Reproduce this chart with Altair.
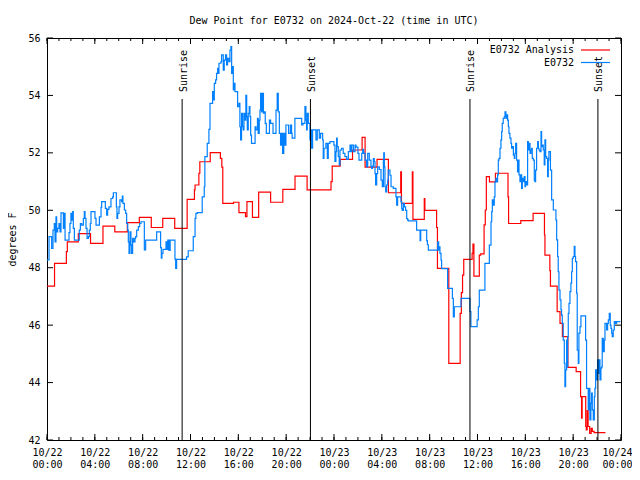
import altair as alt
import pandas as pd

# Hours since 2024-10-22 00:00 UTC and dew point (deg F)
ana_h = [0, 0.63, 1.62, 1.7, 2.62, 3.64, 4.68, 5.67, 6.72, 7.72, 8.72, 9.68, 10.68, 11.72, 12.33, 12.38,
         12.7, 12.78, 13.65, 14.5, 14.62, 14.7, 15.6, 16.05, 16.6, 16.72, 17.18, 17.7, 18.7, 19.72, 20.74,
         21.75, 23.75, 23.85, 24.52, 25.55, 26.35, 26.6, 27.6, 28.55, 29.58, 29.64, 30.55, 30.6, 31.55,
         31.6, 32.58, 32.65, 33.6, 34.55, 34.65, 34.75, 34.85, 35.55, 35.62, 35.7, 36.15, 36.27, 36.55,
         36.65, 36.74, 37.0, 37.5, 38.55, 38.6, 39.62, 40.65, 41.6, 41.64, 42.05, 42.1, 42.66, 42.9, 43.1,
         43.56, 44.25, 44.62, 44.7, 44.75, 45.0, 45.05, 45.1, 45.17, 45.25, 45.38, 45.5, 45.6, 45.75, 46.7]
ana_v = [47.36, 48.15, 48.56, 48.90, 49.19, 48.85, 49.45, 49.25, 49.57, 49.75, 49.40, 49.72, 49.37, 50.38,
         50.71, 50.88, 51.29, 51.69, 52.01, 51.81, 51.5, 50.24, 50.28, 49.92, 49.78, 50.3, 49.75, 50.63,
         50.28, 50.73, 51.19, 50.71, 51.0, 51.54, 51.77, 52.1, 52.54, 51.5, 51.77, 50.61, 51.34, 50.24,
         51.34, 49.68, 50.41, 50.0, 49.4, 47.98, 44.67, 46.41, 47.13, 47.74, 48.29, 48.5, 48.82, 47.71,
         48.44, 48.48, 49.49, 50.01, 51.17, 50.99, 51.29, 50.47, 49.54, 49.64, 49.89, 49.14, 48.44, 47.9,
         47.36, 46.47, 46.06, 45.6, 44.53, 44.38, 43.51, 42.76, 43.51, 43.51, 42.47, 42.35, 43.02, 42.47,
         42.23, 42.41, 42.3, 42.26, 42.26]

obs_h = [0, 0.17, 0.39, 0.5, 0.61, 0.67, 0.75, 0.81, 0.89, 1.0, 1.09, 1.17, 1.37, 1.45, 1.51, 1.84, 1.92,
         2.0, 2.06, 2.15, 2.2, 2.29, 2.7, 2.79, 2.9, 3.04, 3.12, 3.18, 3.26, 3.35, 3.46, 3.54, 3.62, 3.68,
         4.01, 4.1, 4.38, 4.52, 4.57, 4.88, 4.99, 5.07, 5.18, 5.35, 5.49, 5.55, 5.8, 5.85, 5.91, 6.02, 6.1,
         6.24, 6.3, 6.35, 6.47, 6.58, 6.66, 6.75, 6.8, 6.86, 6.94, 7.02, 7.08, 7.16, 7.25, 7.36, 7.41, 7.5,
         7.64, 7.75, 7.86, 8.14, 8.25, 9.17, 9.5, 9.56, 9.61, 9.7, 9.95, 10.05, 10.1, 10.2, 10.3, 10.7,
         10.76, 10.84, 11.67, 11.81, 12.23, 12.38, 12.45, 12.57, 12.98, 13.15, 13.2, 13.4, 13.54, 13.63,
         13.85, 13.9, 13.99, 14.1, 14.18, 14.27, 14.32, 14.38, 14.55, 14.6, 14.74, 14.82, 14.93, 15.02,
         15.1, 15.21, 15.3, 15.38, 15.44, 15.49, 15.58, 15.66, 15.72, 15.94, 16.05, 16.13, 16.19, 16.27,
         16.35, 16.41, 16.47, 16.55, 16.63, 16.7, 16.75, 16.83, 16.91, 16.97, 17.03, 17.1, 17.4, 17.48,
         17.6, 17.66, 17.75, 17.81, 17.86, 17.94, 18.03, 18.1, 18.17, 18.25, 18.34, 18.6, 18.7, 18.9,
         19.15, 19.25, 19.34, 19.43, 19.53, 19.61, 19.7, 19.8, 19.9, 19.98, 20.2, 20.35, 20.45, 20.5,
         20.73, 21.3, 21.4, 21.57, 21.65, 21.71, 21.76, 21.85, 21.99, 22.07, 22.13, 22.21, 22.49, 22.6,
         22.77, 22.88, 23.05, 23.1, 23.16, 23.32, 23.44, 23.52, 23.66, 23.99, 24.08, 24.16, 24.22, 24.27,
         24.36, 24.44, 24.5, 24.63, 24.77, 24.91, 25.06, 25.2, 25.34, 25.42, 25.48, 25.62, 25.76, 25.84,
         26.0, 26.09, 26.32, 26.4, 26.48, 26.6, 26.73, 26.82, 26.95, 27.09, 27.15, 27.21, 27.29, 27.37,
         27.43, 27.48, 27.57, 27.65, 27.79, 27.93, 28.04, 28.13, 28.16, 28.21, 28.26, 28.32, 28.4, 28.49,
         28.54, 28.68, 28.77, 28.96, 29.18, 29.24, 29.32, 29.6, 29.66, 29.71, 29.8, 29.88, 29.99, 30.08,
         30.16, 30.22, 30.91, 31.2, 31.25, 31.75, 31.81, 31.89, 32.67, 32.75, 32.8, 32.86, 32.95, 33.0,
         33.5, 33.9, 33.98, 34.06, 34.62, 35.37, 35.45, 35.97, 36.07, 36.15, 36.62, 36.99, 37.13, 37.19,
         37.24, 37.32, 37.4, 37.46, 37.54, 37.6, 37.68, 37.74, 37.8, 37.88, 37.96, 38.02, 38.07, 38.15,
         38.24, 38.3, 38.38, 38.46, 38.52, 38.58, 38.63, 38.71, 38.8, 38.85, 38.94, 39.0, 39.08, 39.13,
         39.19, 39.27, 39.35, 39.41, 39.47, 39.55, 39.63, 39.69, 39.75, 39.83, 39.91, 39.97, 40.02, 40.11,
         40.19, 40.25, 40.3, 40.39, 40.47, 40.52, 40.58, 40.67, 40.75, 40.8, 40.86, 40.94, 41.03, 41.09,
         41.14, 41.22, 41.31, 41.36, 41.42, 41.5, 41.58, 41.64, 41.7, 41.78, 41.86, 41.92, 41.97, 42.1,
         42.2, 42.34, 42.56, 42.62, 42.7, 42.75, 42.81, 42.9, 42.98, 43.03, 43.09, 43.17, 43.26, 43.31,
         43.37, 43.45, 43.5, 43.54, 43.59, 43.65, 43.73, 43.81, 43.87, 43.93, 44.01, 44.09, 44.15, 44.2,
         44.29, 44.34, 44.43, 44.48, 44.57, 44.65, 45.04, 45.12, 45.2, 45.26, 45.32, 45.4, 45.48, 45.54,
         45.6, 45.68, 45.77, 45.82, 45.88, 45.96, 46.04, 46.1, 46.16, 46.24, 46.32, 46.38, 46.43, 46.52,
         46.6, 46.66, 46.74, 46.8, 46.88, 46.94, 47.02, 47.1, 47.16, 47.22, 47.27, 47.35, 47.44, 47.55,
         47.63, 47.95]
obs_v = [48.27, 49.08, 48.67, 49.31, 49.54, 48.9, 49.77, 49.25, 49.37, 49.54, 49.25, 49.91, 49.37, 49.89,
         48.96, 49.22, 49.54, 49.89, 49.66, 49.95, 49.37, 48.96, 49.31, 49.54, 49.48, 49.72, 49.95, 49.72,
         49.37, 49.02, 49.08, 49.31, 49.54, 49.95, 49.72, 49.48, 49.77, 50.1, 50.3, 50.07, 49.83, 50.03,
         50.12, 50.41, 50.47, 50.61, 50.12, 49.72, 49.89, 50.12, 50.36, 50.3, 50.49, 50.24, 50.01, 49.89,
         49.54, 49.31, 48.9, 48.5, 49.25, 48.79, 48.5, 49.02, 48.9, 49.02, 49.08, 49.31, 49.43, 49.54, 49.6,
         48.62, 48.96, 49.25, 48.7, 48.33, 48.5, 48.64, 48.9, 48.64, 48.96, 48.6, 48.96, 48.3, 47.98, 48.29,
         48.38, 48.59, 49.08, 49.72, 49.89, 49.92, 50.47, 50.82, 51.87, 52.33, 52.82, 53.72, 54.13, 53.84,
         54.42, 54.54, 54.77, 54.94, 54.77, 55.12, 55.18, 55.41, 54.88, 55.23, 55.41, 55.06, 55.29, 55.18,
         55.58, 55.7, 54.77, 55.0, 54.19, 54.42, 54.13, 53.61, 53.72, 52.91, 52.45, 53.38, 52.91, 52.8,
         53.38, 53.14, 54.0, 53.26, 52.8, 53.38, 53.61, 53.26, 52.62, 52.33, 52.91, 52.8, 53.2, 52.68,
         53.14, 53.49, 54.07, 53.43, 54.07, 53.38, 53.43, 53.03, 52.68, 53.14, 53.03, 52.68, 53.49, 54.07,
         53.43, 52.68, 52.27, 52.68, 51.98, 52.68, 52.27, 52.97, 52.68, 52.97, 52.68, 52.51, 53.2, 52.97,
         53.03, 53.61, 53.14, 52.8, 53.38, 53.03, 52.45, 52.8, 52.16, 52.8, 52.45, 52.8, 52.51, 52.68,
         52.45, 51.81, 52.16, 52.33, 51.81, 52.33, 52.39, 52.27, 51.7, 52.04, 52.51, 52.22, 51.87, 51.58,
         52.1, 52.16, 51.98, 51.87, 51.77, 52.04, 52.27, 52.04, 52.27, 52.04, 52.27, 52.2, 51.98, 51.75,
         51.98, 52.12, 51.98, 51.75, 51.51, 51.98, 51.75, 51.51, 51.46, 51.54, 51.8, 51.69, 51.28, 50.88,
         51.28, 51.51, 51.42, 51.05, 50.82, 51.77, 52.0, 51.51, 50.82, 50.64, 50.88, 51.05, 51.4, 51.22,
         50.82, 50.76, 50.47, 50.18, 50.47, 50.3, 50.06, 50.0, 50.24, 50.12, 50.0, 49.71, 49.66, 49.63,
         49.31, 48.94, 49.31, 48.94, 48.8, 48.61, 48.9, 48.61, 48.73, 48.5, 48.26, 47.97, 47.28, 46.93,
         46.29, 46.64, 46.93, 46.47, 45.95, 46.18, 46.64, 47.22, 48.15, 48.79, 49.6, 49.95, 50.36, 50.18,
         50.47, 50.99, 51.11, 50.99, 51.23, 51.75, 51.81, 52.16, 52.45, 52.74, 53.03, 53.2, 53.26, 53.43,
         53.2, 53.32, 53.14, 52.91, 52.68, 52.51, 52.33, 52.16, 52.22, 51.92, 51.81, 51.98, 52.33, 51.75,
         51.34, 51.75, 51.23, 51.0, 51.23, 50.76, 51.11, 51.0, 51.17, 50.82, 51.0, 50.88, 52.39, 52.1,
         52.33, 51.98, 52.1, 52.16, 51.81, 51.75, 51.05, 51.0, 51.4, 52.16, 52.39, 52.16, 52.1, 52.04,
         52.74, 52.22, 52.27, 52.1, 51.58, 52.45, 51.87, 51.81, 51.17, 51.75, 52.04, 51.4, 50.36, 50.01,
         49.66, 48.97, 48.39, 47.86, 47.22, 46.88, 46.53, 46.35, 46.06, 45.48, 44.67, 43.86, 44.44, 45.48,
         44.55, 45.6, 46.41, 46.76, 47.17, 47.46, 47.86, 48.33, 48.39, 48.74, 48.39, 48.21, 47.11, 45.13,
         44.67, 45.72, 45.95, 46.32, 45.48, 43.8, 43.8, 43.05, 43.8, 42.7, 43.28, 43.63, 43.05, 42.7, 43.51,
         43.8, 44.44, 44.09, 44.79, 44.32, 44.79, 44.09, 44.5, 44.55, 45.54, 45.08, 45.48, 46.06, 46.06,
         45.83, 46.06, 46.18, 46.41, 46.0, 45.89, 45.72, 45.6, 45.83, 46.12, 46.06, 46.12, 46.12]

sun_h = [11.3, 22.03, 35.37, 46.07]
sun_lbl = ["Sunrise", "Sunset", "Sunrise", "Sunset"]
x_major = list(range(0, 49, 4))
x_minor = list(range(0, 49))
y_major = [42, 44, 46, 48, 50, 52, 54, 56]

W, H = 574, 402
FONT = "DejaVu Sans Mono"
RED = "#ff0000"
BLUE = "#0080ff"

ana = pd.DataFrame({"h": ana_h, "v": ana_v})
obs = pd.DataFrame({"h": obs_h, "v": obs_v})
sun = pd.DataFrame({"h": sun_h, "label": sun_lbl})
xmaj = pd.DataFrame({"h": x_major})
xmin = pd.DataFrame({"h": x_minor})
ymaj = pd.DataFrame({"v": y_major})
one = pd.DataFrame({"a": [0]})

xscale = alt.Scale(domain=[0, 48], nice=False, zero=False)
yscale = alt.Scale(domain=[42, 56], nice=False, zero=False)

label_expr = ("['10/' + (22 + floor(datum.value / 24)), "
              "(datum.value % 24 < 10 ? '0' : '') + (datum.value % 24) + ':00']")

X = alt.X("h:Q", scale=xscale,
          axis=alt.Axis(values=x_major, labelExpr=label_expr, tickSize=0, domain=False,
                        grid=False, title=None, labelPadding=7, labelFont=FONT,
                        labelFontSize=10, labelColor="black", labelLineHeight=12,
                        labelFlush=False, labelOverlap=False,
                        labelOffset=alt.condition("datum.value == 48", alt.value(-4), alt.value(0))))
Y = alt.Y("v:Q", scale=yscale,
          axis=alt.Axis(values=y_major, tickSize=0, domain=False, grid=False,
                        title="degrees F", titleFont=FONT, titleFontSize=10,
                        titleFontWeight="normal", titleColor="black", titlePadding=10,
                        labelPadding=7, labelFont=FONT, labelFontSize=10,
                        labelColor="black", labelFlush=False, labelOverlap=False))

red_line = alt.Chart(ana).mark_line(interpolate="step-after", color=RED, strokeWidth=1.2).encode(x=X, y=Y)
blue_line = alt.Chart(obs).mark_line(interpolate="step-after", color=BLUE, strokeWidth=1.2).encode(
    x=alt.X("h:Q", scale=xscale), y=alt.Y("v:Q", scale=yscale))

sun_rule = alt.Chart(sun).mark_rule(color="black", strokeWidth=1).encode(
    x=alt.X("h:Q", scale=xscale), y=alt.value(61), y2=alt.value(H))
sun_text = alt.Chart(sun).mark_text(angle=270, align="left", baseline="middle", font=FONT,
                                     fontSize=10, color="black", dy=1.5).encode(
    x=alt.X("h:Q", scale=xscale), y=alt.value(54), text="label:N")

tick_x_bot_maj = alt.Chart(xmaj).mark_rule(color="black").encode(
    x=alt.X("h:Q", scale=xscale), y=alt.value(H - 6), y2=alt.value(H))
tick_x_top_maj = alt.Chart(xmaj).mark_rule(color="black").encode(
    x=alt.X("h:Q", scale=xscale), y=alt.value(0), y2=alt.value(6))
tick_x_bot_min = alt.Chart(xmin).mark_rule(color="black").encode(
    x=alt.X("h:Q", scale=xscale), y=alt.value(H - 3), y2=alt.value(H))
tick_x_top_min = alt.Chart(xmin).mark_rule(color="black").encode(
    x=alt.X("h:Q", scale=xscale), y=alt.value(0), y2=alt.value(3))
tick_y_left = alt.Chart(ymaj).mark_rule(color="black").encode(
    y=alt.Y("v:Q", scale=yscale), x=alt.value(0), x2=alt.value(6))
tick_y_right = alt.Chart(ymaj).mark_rule(color="black").encode(
    y=alt.Y("v:Q", scale=yscale), x=alt.value(W - 6), x2=alt.value(W))

leg_t1 = alt.Chart(one).mark_text(align="right", baseline="middle", font=FONT, fontSize=10,
                                  color="black").encode(x=alt.value(527), y=alt.value(12),
                                                        text=alt.value("E0732 Analysis"))
leg_t2 = alt.Chart(one).mark_text(align="right", baseline="middle", font=FONT, fontSize=10,
                                  color="black").encode(x=alt.value(527), y=alt.value(24.5),
                                                        text=alt.value("E0732"))
leg_l1 = alt.Chart(one).mark_rule(color=RED, strokeWidth=1.2).encode(
    x=alt.value(534), x2=alt.value(563), y=alt.value(12))
leg_l2 = alt.Chart(one).mark_rule(color=BLUE, strokeWidth=1.2).encode(
    x=alt.value(534), x2=alt.value(563), y=alt.value(24.5))

chart = alt.layer(
    red_line, blue_line, sun_rule, sun_text,
    tick_x_bot_maj, tick_x_top_maj, tick_x_bot_min, tick_x_top_min, tick_y_left, tick_y_right,
    leg_t1, leg_t2, leg_l1, leg_l2,
).properties(
    width=W, height=H,
    title=alt.TitleParams("Dew Point for E0732 on 2024-Oct-22 (time in UTC)", font=FONT,
                          fontSize=10, fontWeight="normal", color="black", anchor="middle",
                          offset=7),
    autosize=alt.AutoSizeParams(type="none"),
    padding={"left": 39, "top": 30, "right": 11, "bottom": 32},
    background="white",
).configure_view(stroke="black", strokeWidth=1)

chart.save("out.html", embed_options={"renderer": "svg", "actions": False})
